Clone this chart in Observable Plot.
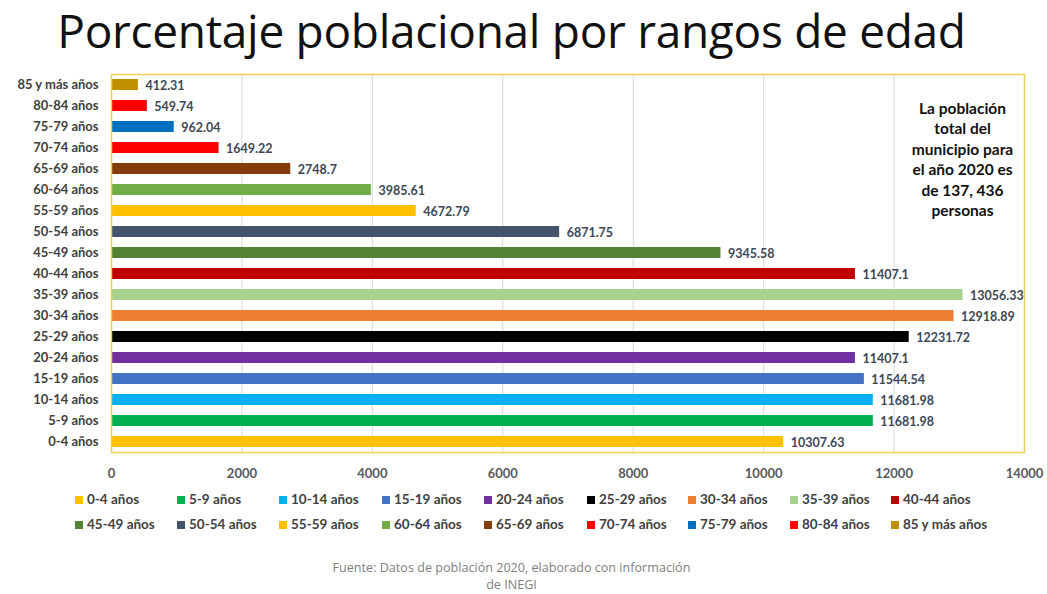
<!DOCTYPE html>
<html>
<head>
<meta charset="utf-8">
<script src="https://cdn.jsdelivr.net/npm/d3@7"></script>
<script src="https://cdn.jsdelivr.net/npm/@observablehq/plot@0.6"></script>
<style>
  html, body { margin: 0; padding: 0; background: #fff; }
  #root { position: relative; width: 1047px; height: 594px; overflow: hidden; font-family: Lato, "Open Sans", sans-serif; }
  #title { position: absolute; left: 0; top: 2px; width: 1023px; text-align: center; font-family: "Open Sans", Lato, sans-serif; font-size: 46px; line-height: 56px; color: #111; letter-spacing: -0.3px; white-space: nowrap; }
  #chart { position: absolute; left: 0; top: 60px; }
  #legend { position: absolute; left: 0; top: 492px; width: 1047px; }
  .li { position: absolute; font-weight: 700; font-size: 13.5px; color: #404040; white-space: nowrap; line-height: 15px; }
  .li span.sw { display: inline-block; width: 8px; height: 8px; margin-right: 4px; vertical-align: 0px; }
  #caption { position: absolute; left: 0; top: 559px; width: 1023px; text-align: center; font-family: "Open Sans", sans-serif; font-size: 12.6px; line-height: 17px; color: #7f7f7f; }
</style>
</head>
<body>
<div id="root">
  <div id="title">Porcentaje poblacional por rangos de edad</div>
  <div id="chart"></div>
  <div id="legend"></div>
  <div id="caption">Fuente: Datos de población 2020, elaborado con información<br>de INEGI</div>
</div>
<script>
const categories = ["0-4 años","5-9 años","10-14 años","15-19 años","20-24 años","25-29 años","30-34 años","35-39 años","40-44 años","45-49 años","50-54 años","55-59 años","60-64 años","65-69 años","70-74 años","75-79 años","80-84 años","85 y más años"];
const values = [10307.63, 11681.98, 11681.98, 11544.54, 11407.1, 12231.72, 12918.89, 13056.33, 11407.1, 9345.58, 6871.75, 4672.79, 3985.61, 2748.7, 1649.22, 962.04, 549.74, 412.31];
const valueLabels = ["10307.63","11681.98","11681.98","11544.54","11407.1","12231.72","12918.89","13056.33","11407.1","9345.58","6871.75","4672.79","3985.61","2748.7","1649.22","962.04","549.74","412.31"];
const colors = ["#FFC000","#00B050","#00B0F0","#4472C4","#7030A0","#000000","#ED7D31","#A9D18E","#C00000","#548235","#44546A","#FFC000","#70AD47","#843C0C","#FF0000","#0070C0","#FF0000","#BF9000"];
const xTicks = [0, 2000, 4000, 6000, 8000, 10000, 12000, 14000];
const annotation = "La población\ntotal del\nmunicipio para\nel año 2020 es\nde 137, 436\npersonas";

const data = categories.map((c, i) => ({cat: c, value: values[i], label: valueLabels[i], color: colors[i]}));
const yDomain = categories.slice().reverse();

const chart = Plot.plot({
  width: 1047,
  height: 425,
  marginTop: 14,
  marginBottom: 33,
  marginLeft: 111,
  marginRight: 23,
  style: {fontFamily: "Lato, 'Open Sans', sans-serif", background: "transparent"},
  x: {domain: [0, 14000], ticks: xTicks, label: null, tickSize: 0, tickFormat: d => String(d)},
  y: {domain: yDomain, label: null, tickSize: 0, paddingInner: 0.5, paddingOuter: 0.25},
  marks: [
    Plot.gridX(xTicks, {stroke: "#d9d9d9", strokeOpacity: 1, strokeWidth: 1}),
    Plot.barX(data, {x: "value", y: "cat", fill: "color"}),
    Plot.text(data, {x: "value", y: "cat", text: "label", textAnchor: "start", dx: 7, dy: 1, fill: "#3e4756", fontWeight: 700, fontSize: 12.5}),
    Plot.frame({stroke: "#EBD257", strokeWidth: 1.5}),
    Plot.text([annotation], {frameAnchor: "top-right", dx: -62, dy: 25, textAnchor: "middle", lineHeight: 1.32, fontWeight: 700, fontSize: 15.5, fill: "#111"}),
    Plot.axisX({ticks: xTicks, tickSize: 0, tickPadding: 16, fontWeight: 700, fontSize: 13, fill: "#595959", tickFormat: d => String(d), label: null}),
    Plot.axisY({tickSize: 0, tickPadding: 13, fontWeight: 700, fontSize: 13, fill: "#404040", label: null})
  ]
});
document.getElementById("chart").appendChild(chart);

// legend
const legend = document.getElementById("legend");
const legendX = [75, 177, 279, 382, 484, 587, 688, 790, 891];
categories.forEach((c, i) => {
  const row = Math.floor(i / 9), col = i % 9;
  const d = document.createElement("div");
  d.className = "li";
  d.style.left = legendX[col] + "px";
  d.style.top = (row * 25) + "px";
  const sw = document.createElement("span");
  sw.className = "sw";
  sw.style.background = colors[i];
  d.appendChild(sw);
  d.appendChild(document.createTextNode(c));
  legend.appendChild(d);
});
</script>
</body>
</html>
